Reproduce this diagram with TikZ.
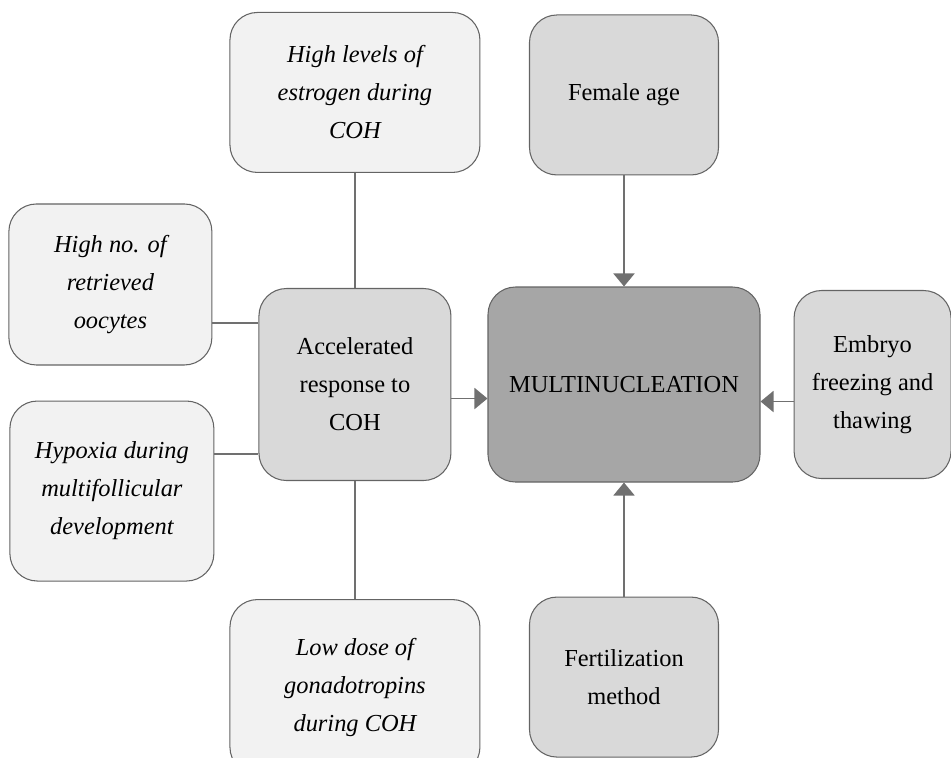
\documentclass[tikz,border=0pt]{standalone}
\usepackage{fontspec}
\setmainfont{Liberation Serif}
\usetikzlibrary{arrows.meta}
\usetikzlibrary{positioning}

\definecolor{linkgray}{RGB}{112,112,112}
\definecolor{bordergray}{RGB}{100,100,100}
\definecolor{paleFill}{RGB}{242,242,242}
\definecolor{midFill}{RGB}{217,217,217}
\definecolor{darkFill}{RGB}{166,166,166}

\tikzset{
  box/.style={draw=bordergray, line width=0.6pt, rounded corners=0.55cm, inner sep=0pt, align=center,
              font=\fontsize{13.9}{21.6}\selectfont},
  factor/.style={box, fill=paleFill, font=\fontsize{13.9}{21.6}\selectfont\itshape},
  cause/.style={box, fill=midFill},
  outcome/.style={box, fill=darkFill},
  link/.style={draw=linkgray, line width=1.1pt},
  feed/.style={link, -{Triangle[length=0.26cm,width=0.42cm]}, fill=linkgray}
}

\begin{document}
\begin{tikzpicture}
        \path[use as bounding box, clip] (0,0) rectangle (19.02,-15.14);

        \node (main) [outcome, minimum width=5.44cm, minimum height=3.9cm] at (12.48,-7.69) {MULTINUCLEATION};
        \node (female) [cause, above=2.22cm of main, minimum width=3.78cm, minimum height=3.2cm] {Female age};
        \node (fert) [cause, below=2.28cm of main, minimum width=3.78cm, minimum height=3.2cm] {Fertilization\\method};
        \node (embryo) [cause, right=0.66cm of main, minimum width=3.14cm, minimum height=3.76cm] {Embryo\\freezing and\\thawing};
        \node (accel) [cause, left=0.72cm of main, minimum width=3.84cm, minimum height=3.84cm] {Accelerated\\response to\\COH};

        \node (highlev) [factor, above=2.3cm of accel, minimum width=5cm, minimum height=3.2cm] {High levels of\\estrogen during\\COH};
        \node (lowdose) [factor, below=2.36cm of accel, minimum width=5cm, minimum height=3.5cm] {Low dose of\\gonadotropins\\during COH};
        \node (highno) [factor, above left=0.38cm and 0.92cm of accel.west, minimum width=4.06cm, minimum height=3.22cm] {High no. of\\retrieved\\oocytes};
        \node (hypoxia) [factor, below left=0.32cm and 0.88cm of accel.west, minimum width=4.08cm, minimum height=3.6cm] {Hypoxia during\\multifollicular\\development};

        \draw[link] (accel.north) -- (accel.north |- highlev.south);
        \draw[link] (accel.south) -- (accel.south |- lowdose.north);
        \draw[link] ([yshift=-0.77cm]highno.east) -- ([yshift=-0.77cm]highno.east -| accel.west);
        \draw[link] ([yshift=0.74cm]hypoxia.east) -- ([yshift=0.74cm]hypoxia.east -| accel.west);

        \draw[feed] ([yshift=-0.28cm]accel.east) -- ([yshift=-0.28cm]accel.east -| main.west);
        \draw[feed] ([yshift=-0.34cm]embryo.west) -- ([yshift=-0.34cm]embryo.west -| main.east);
        \draw[feed] (female.south) -- (main.north);
        \draw[feed] (fert.north) -- (main.south);

    \end{tikzpicture}
\end{document}
